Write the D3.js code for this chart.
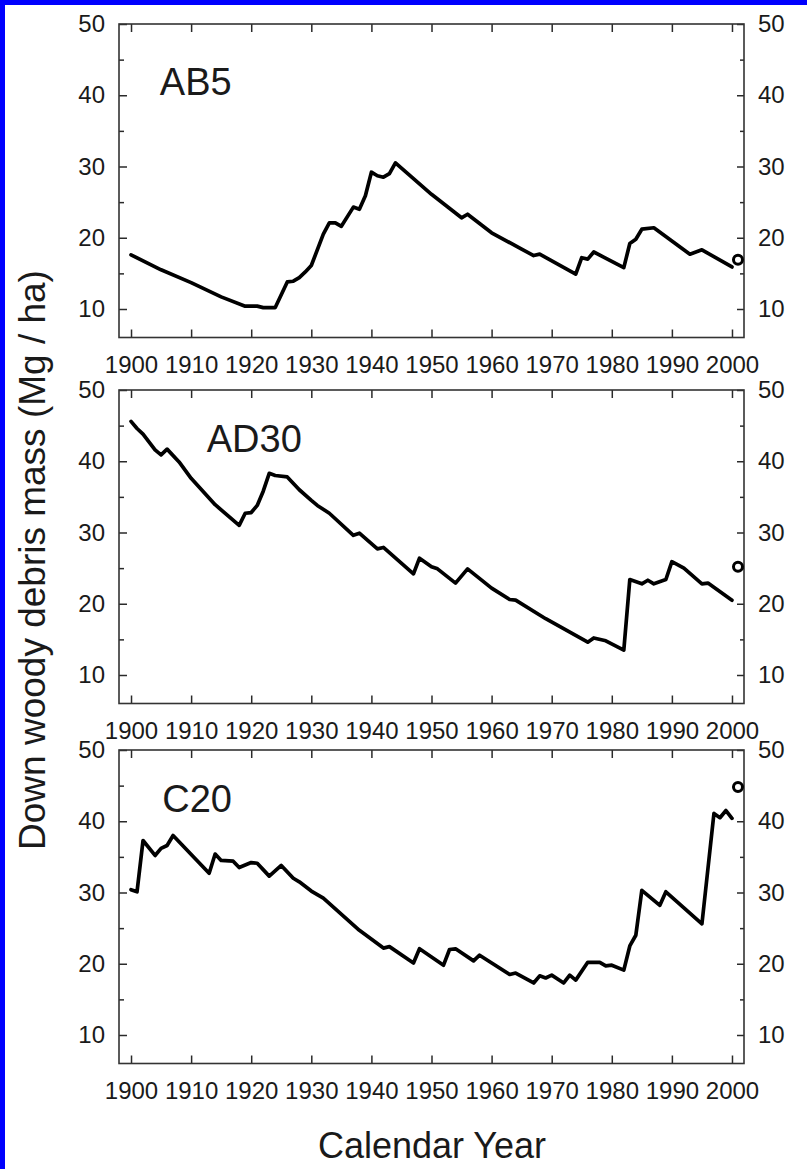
<!DOCTYPE html>
<html>
<head>
<meta charset="utf-8">
<script src="https://cdn.jsdelivr.net/npm/d3@7"></script>
<style>
  html, body { margin: 0; padding: 0; background: #fff; }
  svg { display: block; }
  text { font-family: "Liberation Sans", Arial, sans-serif; fill: #1a1a1a; }
</style>
</head>
<body>
<svg id="chart" width="807" height="1169"></svg>
<script>
// ---------------- DATA ----------------
const panelNames = ["AB5", "AD30", "C20"];

const ab5Years  = [1900,1905,1910,1915,1919,1921,1922,1924,1926,1927,1928,1929,1930,1932,1933,1934,1935,1937,1938,1939,1940,1941,1942,1943,1944,1950,1955,1956,1960,1965,1967,1968,1974,1975,1976,1977,1982,1983,1984,1985,1987,1993,1995,2000];
const ab5Values = [17.6,15.5,13.7,11.7,10.4,10.4,10.2,10.2,13.8,13.9,14.4,15.2,16.1,20.5,22.1,22.1,21.6,24.3,24.0,25.9,29.2,28.7,28.5,29.0,30.5,26.1,22.8,23.3,20.7,18.4,17.5,17.7,14.9,17.2,17.0,18.0,15.8,19.2,19.8,21.2,21.4,17.7,18.3,15.9];

const ad30Years  = [1900,1901,1902,1904,1905,1906,1908,1910,1914,1918,1919,1920,1921,1922,1923,1924,1926,1928,1930,1931,1933,1937,1938,1941,1942,1947,1948,1950,1951,1954,1956,1960,1963,1964,1969,1976,1977,1979,1982,1983,1985,1986,1987,1989,1990,1992,1995,1996,2000];
const ad30Values = [45.6,44.6,43.8,41.6,40.9,41.7,39.9,37.6,33.9,31.0,32.7,32.8,33.8,35.8,38.3,38.0,37.8,36.0,34.5,33.8,32.7,29.6,29.9,27.7,27.9,24.2,26.4,25.2,24.9,22.9,24.9,22.2,20.6,20.5,17.9,14.6,15.2,14.8,13.5,23.4,22.8,23.3,22.8,23.4,25.9,25.0,22.8,22.9,20.5];

const c20Years  = [1900,1901,1902,1904,1905,1906,1907,1913,1914,1915,1917,1918,1920,1921,1923,1925,1927,1928,1930,1932,1938,1942,1943,1947,1948,1952,1953,1954,1957,1958,1963,1964,1967,1968,1969,1970,1972,1973,1974,1976,1978,1979,1980,1982,1983,1984,1985,1988,1989,1995,1997,1998,1999,2000];
const c20Values = [30.4,30.1,37.3,35.2,36.2,36.6,38.0,32.7,35.4,34.5,34.4,33.5,34.2,34.1,32.3,33.8,32.0,31.5,30.2,29.2,24.7,22.2,22.4,20.1,22.1,19.8,22.0,22.1,20.4,21.2,18.5,18.7,17.3,18.3,18.0,18.4,17.3,18.4,17.7,20.2,20.2,19.7,19.8,19.1,22.5,24.0,30.3,28.2,30.1,25.6,41.1,40.5,41.5,40.4];

// measured (open circle) value for each stand
const observedYear   = 2001;
const observedValues = [16.9, 25.2, 44.8];

const xTicks      = [1900,1910,1920,1930,1940,1950,1960,1970,1980,1990,2000];
const yMajorTicks = [10,20,30,40,50];
const yMinorTicks = [15,25,35,45];

const yTitle = "Down woody debris mass (Mg / ha)";
const xTitle = "Calendar Year";

// ---------------- LAYOUT ----------------
const series = [
  { name: panelNames[0], years: ab5Years,  values: ab5Values,  obs: observedValues[0] },
  { name: panelNames[1], years: ad30Years, values: ad30Values, obs: observedValues[1] },
  { name: panelNames[2], years: c20Years,  values: c20Values,  obs: observedValues[2] }
];
const panelTops   = [24, 390, 750];
const panelHeight = 313.5;
const left = 119, right = 744;
const labelPos = [ {year: 1904.8, v: 40.1}, {year: 1912.6, v: 41.3}, {year: 1905.2, v: 41.3} ];

const svg = d3.select("#chart");
svg.append("rect").attr("width", 807).attr("height", 1169).attr("fill", "#ffffff");
// blue frame (top & left)
svg.append("rect").attr("x", 0).attr("y", 0).attr("width", 807).attr("height", 5).attr("fill", "#0000fe");
svg.append("rect").attr("x", 0).attr("y", 0).attr("width", 5).attr("height", 1169).attr("fill", "#0000fe");

const x = d3.scaleLinear().domain([1898, 2002]).range([left, right]);

series.forEach((s, i) => {
  const top = panelTops[i];
  const y = d3.scaleLinear().domain([6, 50]).range([top + panelHeight, top]);
  const g = svg.append("g");

  const styleAxis = sel => {
    sel.select(".domain").remove();
    sel.selectAll("line").attr("stroke", "#2a2a2a").attr("stroke-width", 1.5);
    sel.selectAll("text").attr("font-size", 24).attr("fill", "#1a1a1a")
       .attr("font-family", "'Liberation Sans', Arial, sans-serif");
  };

  // left axis
  g.append("g").attr("transform", `translate(${left},0)`)
    .call(d3.axisLeft(y).tickValues(yMajorTicks).tickSize(-8).tickPadding(14).tickFormat(d3.format("d")))
    .call(styleAxis);
  g.append("g").attr("transform", `translate(${left},0)`)
    .call(d3.axisLeft(y).tickValues(yMinorTicks).tickSize(-5).tickFormat(""))
    .call(styleAxis);
  // right axis
  g.append("g").attr("transform", `translate(${right},0)`)
    .call(d3.axisRight(y).tickValues(yMajorTicks).tickSize(-7).tickPadding(14).tickFormat(d3.format("d")))
    .call(styleAxis);
  g.append("g").attr("transform", `translate(${right},0)`)
    .call(d3.axisRight(y).tickValues(yMinorTicks).tickSize(-4).tickFormat(""))
    .call(styleAxis);
  // bottom axis
  g.append("g").attr("transform", `translate(0,${top + panelHeight})`)
    .call(d3.axisBottom(x).tickValues(xTicks).tickSize(-8).tickPadding(18).tickFormat(d3.format("d")))
    .call(styleAxis);
  // top axis
  g.append("g").attr("transform", `translate(0,${top})`)
    .call(d3.axisTop(x).tickValues(xTicks).tickSize(-8).tickFormat(""))
    .call(styleAxis);

  // frame
  g.append("rect")
    .attr("x", left).attr("y", top)
    .attr("width", right - left).attr("height", panelHeight)
    .attr("fill", "none").attr("stroke", "#333").attr("stroke-width", 1.6);

  // line
  const pts = s.years.map((yr, k) => [yr, s.values[k]]);
  g.append("path")
    .datum(pts)
    .attr("fill", "none")
    .attr("stroke", "#000")
    .attr("stroke-width", 3.7)
    .attr("stroke-linejoin", "round")
    .attr("stroke-linecap", "round")
    .attr("d", d3.line().x(d => x(d[0])).y(d => y(d[1])));

  // observed point
  g.append("circle")
    .attr("cx", x(observedYear)).attr("cy", y(s.obs))
    .attr("r", 4.5)
    .attr("fill", "#fff").attr("stroke", "#000").attr("stroke-width", 3);

  // panel label
  g.append("text")
    .attr("x", x(labelPos[i].year)).attr("y", y(labelPos[i].v))
    .attr("font-size", 38)
    .text(s.name);
});

// axis titles
svg.append("text")
  .attr("transform", "translate(45,560) rotate(-90)")
  .attr("text-anchor", "middle")
  .attr("font-size", 37)
  .text(yTitle);

svg.append("text")
  .attr("x", 432).attr("y", 1158)
  .attr("text-anchor", "middle")
  .attr("font-size", 36)
  .text(xTitle);
</script>
</body>
</html>
